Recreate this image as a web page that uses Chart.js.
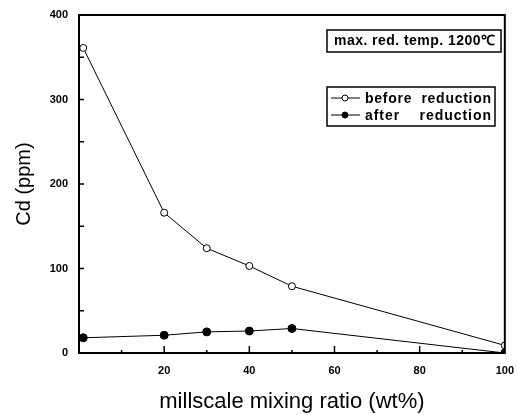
<!DOCTYPE html>
<html lang="en">
<head>
    <meta charset="UTF-8">
    <title>Cd vs millscale mixing ratio</title>
    <script src="https://cdn.jsdelivr.net/npm/chart.js"></script>
    <style>
        body {
            margin: 0;
            background: #fff;
        }
        #wrap {
            width: 517px;
            height: 415px;
        }
    </style>
</head>
<body>
    <div id="wrap"><canvas id="cdChart" width="517" height="415"></canvas></div>
    <script>
        // data
        const mixRatio = [1, 20, 30, 40, 50, 100];
        const beforeReduction = [361, 166, 124, 103, 79, 9];
        const afterReduction = [18, 21, 25, 26, 29, 0];
        const xTicks = [20, 40, 60, 80, 100];
        const yTicks = [0, 100, 200, 300, 400];
        const noteText = 'max. red. temp. 1200\u2103';

        const tickFont = { family: "'Liberation Sans Narrow', 'Liberation Sans', Arial, sans-serif", size: 11, weight: 'bold' };

        // stretch a text so it fills the given width (the scan uses a wide typewriter-like face)
        function fitText(ctx, text, x, y, width) {
            ctx.letterSpacing = '0px';
            const w = ctx.measureText(text).width;
            const gap = (width - w) / Math.max(1, text.length - 1);
            ctx.letterSpacing = gap.toFixed(2) + 'px';
            ctx.fillText(text, x, y);
            ctx.letterSpacing = '0px';
        }

        // frame, inward ticks, note box and legend box
        const decorations = {
            id: 'decorations',
            afterDraw(chart) {
                const ctx = chart.ctx;
                const area = chart.chartArea;
                const xs = chart.scales.x;
                const ys = chart.scales.y;
                ctx.save();
                ctx.strokeStyle = '#000';
                ctx.lineWidth = 2;
                ctx.strokeRect(area.left, area.top, area.right - area.left, area.bottom - area.top);

                ctx.lineWidth = 1.5;
                ctx.beginPath();
                for (let v = 10; v < 100; v += 10) {
                    const px = xs.getPixelForValue(v);
                    const len = v % 20 === 0 ? 7 : 3;
                    ctx.moveTo(px, area.bottom);
                    ctx.lineTo(px, area.bottom - len);
                }
                for (let v = 50; v < 400; v += 50) {
                    const py = ys.getPixelForValue(v);
                    ctx.moveTo(area.left, py);
                    ctx.lineTo(area.left + 5, py);
                }
                ctx.stroke();

                // note box
                ctx.lineWidth = 1.5;
                ctx.strokeRect(327, 30, 174, 22);
                ctx.fillStyle = '#000';
                ctx.font = "bold 14px 'Liberation Sans', Arial, sans-serif";
                ctx.textBaseline = 'middle';
                ctx.textAlign = 'left';
                fitText(ctx, noteText, 334, 41.5, 161);

                // legend box
                ctx.strokeRect(327, 87, 168, 39);
                const rows = [
                    { label: 'before  reduction', fill: '#fff', y: 98 },
                    { label: 'after    reduction', fill: '#000', y: 115 }
                ];
                rows.forEach(r => {
                    ctx.lineWidth = 1;
                    ctx.beginPath();
                    ctx.moveTo(331, r.y);
                    ctx.lineTo(360, r.y);
                    ctx.stroke();
                    ctx.beginPath();
                    ctx.arc(345, r.y, 3, 0, Math.PI * 2);
                    ctx.fillStyle = r.fill;
                    ctx.fill();
                    ctx.stroke();
                    ctx.fillStyle = '#000';
                    fitText(ctx, r.label, 365, r.y + 1, 126);
                });
                ctx.restore();
            }
        };

        new Chart(document.getElementById('cdChart'), {
            type: 'line',
            data: {
                datasets: [
                    {
                        label: 'before reduction',
                        data: mixRatio.map((x, i) => ({ x: x, y: beforeReduction[i] })),
                        borderColor: '#000',
                        borderWidth: 1,
                        pointRadius: 3.5,
                        pointBackgroundColor: '#fff',
                        pointBorderColor: '#000',
                        pointBorderWidth: 1,
                        tension: 0
                    },
                    {
                        label: 'after reduction',
                        data: mixRatio.map((x, i) => ({ x: x, y: afterReduction[i] })),
                        borderColor: '#000',
                        borderWidth: 1,
                        pointRadius: 4,
                        pointBackgroundColor: '#000',
                        pointBorderColor: '#000',
                        pointBorderWidth: 1,
                        tension: 0
                    }
                ]
            },
            options: {
                responsive: false,
                animation: false,
                layout: { padding: { left: 12, right: 10, top: 15, bottom: 0 } },
                plugins: {
                    legend: { display: false },
                    tooltip: { enabled: false }
                },
                scales: {
                    x: {
                        type: 'linear',
                        min: 0,
                        max: 100,
                        afterFit: s => { s.height = 62; },
                        afterBuildTicks: s => { s.ticks = xTicks.map(v => ({ value: v })); },
                        grid: { display: false },
                        border: { display: false },
                        ticks: { color: '#000', font: tickFont, padding: 3, maxRotation: 0 },
                        title: {
                            display: true,
                            text: 'millscale mixing ratio (wt%)',
                            color: '#000',
                            font: { family: "'Liberation Sans', Arial, sans-serif", size: 22 },
                            padding: { top: 6, bottom: 0 }
                        }
                    },
                    y: {
                        min: 0,
                        max: 400,
                        afterFit: s => { s.width = 67; },
                        afterBuildTicks: s => { s.ticks = yTicks.map(v => ({ value: v })); },
                        grid: { display: false },
                        border: { display: false },
                        ticks: { color: '#000', font: tickFont, padding: 3 },
                        title: {
                            display: true,
                            text: 'Cd (ppm)',
                            color: '#000',
                            font: { family: "'Liberation Sans', Arial, sans-serif", size: 20 },
                            padding: { top: 0, bottom: 0 }
                        }
                    }
                }
            },
            plugins: [decorations]
        });
    </script>
</body>
</html>
